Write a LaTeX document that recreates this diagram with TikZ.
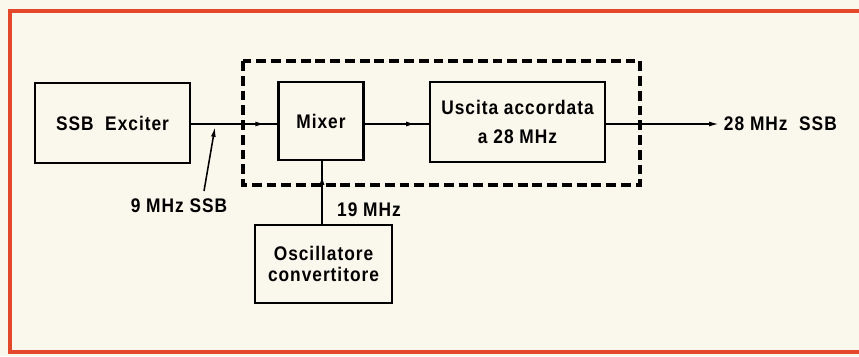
\documentclass[tikz,border=0pt]{standalone}
\usepackage{fontspec}
\setmainfont{Liberation Sans}[LetterSpace=5, FakeStretch=0.88]
\usepackage{tikz}
\usetikzlibrary{arrows.meta, positioning, decorations.markings}
\definecolor{paper}{RGB}{250,247,236}
\definecolor{frame}{RGB}{228,72,42}

\begin{document}
\begin{tikzpicture}[x=0.025cm, y=-0.025cm, >={Latex[length=7pt,width=3.5pt]},
                    font=\fontsize{14}{16}\selectfont\bfseries,
                    block/.style={draw, line width=1.8pt, align=center, inner sep=0pt},
                    wire/.style={line width=1.1pt},
                    mid arrow/.style={wire, postaction={decorate,decoration={markings, mark=at position #1 with {\arrow{Latex[length=7pt,width=3.5pt]}}}}}]
    % Background and frame
    \useasboundingbox (0,0) rectangle (859,356);
    \fill[paper] (0,0) rectangle (859,356);
    \draw[frame, line width=2.8pt] (10,11) rectangle (880,352);

    % Blocks
    \node[block, minimum width=3.875cm, minimum height=2cm] (exc) at (112.5,123) {SSB\ \ Exciter};
    \node[block, minimum width=2.125cm, minimum height=1.95cm] (mix) at (321,121) {Mixer};
    \node[block, minimum width=4.375cm, minimum height=2cm,
          font=\fontsize{14}{20.5}\selectfont\bfseries] (usc) at (517.5,122) {Uscita accordata\\a 28 MHz};
    \node[block, minimum width=3.425cm, minimum height=1.95cm,
          font=\fontsize{14}{15.5}\selectfont\bfseries] (osc) at (323.5,264) {Oscillatore\\convertitore};

    % Converter outline
    \draw[line width=2.4pt, dash pattern=on 7pt off 3.5pt] (243,61) rectangle (640,185);

    % Labels
    \node (lbl9) at (179,206) {9 MHz SSB};
    \node (lbl19) at (369,210) {19 MHz};
    \node[anchor=west] (out) at (719,124) {28 MHz\ \ SSB};

    % Signal path
    \draw[mid arrow=0.86] (exc.east |- 0,124) -- (mix.west |- 0,124);
    \draw[mid arrow=0.8] (mix.east |- 0,124) -- (usc.west |- 0,124);
    \draw[wire, ->] (usc.east |- 0,124) -- (out.west);
    \draw[mid arrow=0.78] (osc.north -| 322,0) -- (mix.south -| 322,0);

    % Input tap
    \coordinate (tapfoot) at (204,191);
    \coordinate (tap) at (215,127);
    \draw[wire, ->] (tapfoot) -- (tap);
\end{tikzpicture}
\end{document}
